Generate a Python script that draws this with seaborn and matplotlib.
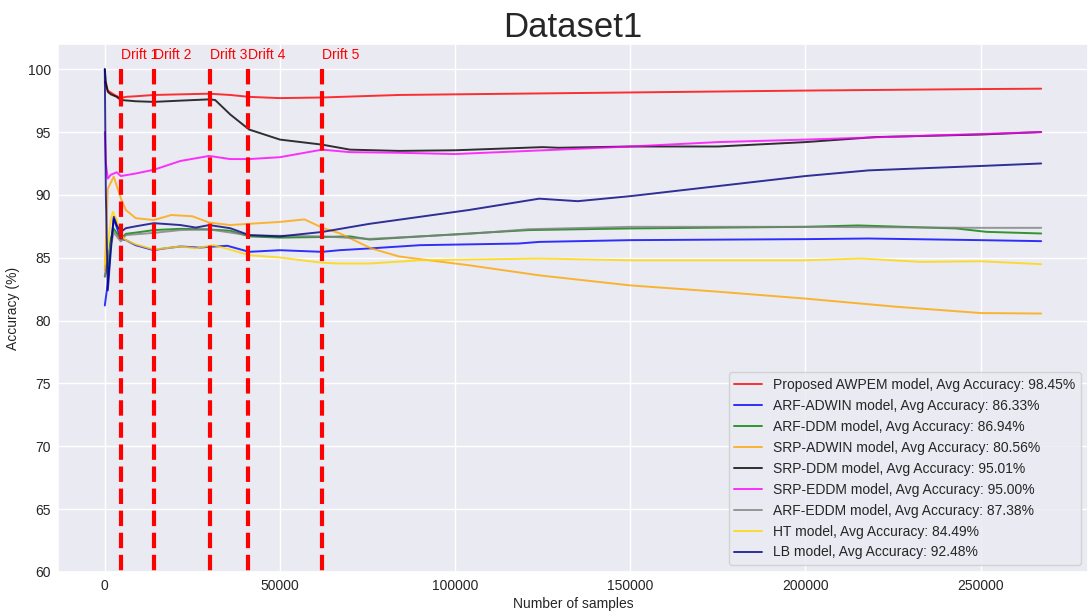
import numpy as np
import pandas as pd
import matplotlib
matplotlib.use("Agg")
import matplotlib.pyplot as plt
import seaborn as sns

# accuracy curves (samples, accuracy %)
awpem_x = [0, 850, 2500, 4500, 6000, 9000, 14000, 21600, 29800, 35800, 41200, 50000, 62000, 84000, 100000, 150000, 200000, 250000, 267300]
awpem_y = [99.0, 98.3, 98.0, 97.7, 97.8, 97.85, 97.95, 98.0, 98.05, 97.95, 97.8, 97.7, 97.75, 97.95, 98.0, 98.15, 98.3, 98.42, 98.45]

arf_adwin_x = [0, 850, 1700, 2560, 4550, 6000, 8800, 14000, 16000, 21600, 27000, 29800, 35000, 41200, 50000, 62000, 67000, 75600, 90000, 118000, 124000, 150000, 200000, 218000, 250000, 267300]
arf_adwin_y = [81.2, 83.0, 86.0, 88.1, 86.5, 86.4, 86.0, 85.6, 85.7, 85.9, 85.8, 85.87, 85.95, 85.47, 85.6, 85.47, 85.6, 85.74, 86.0, 86.13, 86.26, 86.4, 86.48, 86.53, 86.4, 86.32]

arf_ddm_x = [0, 850, 1700, 2560, 4550, 6000, 8800, 14000, 21600, 29800, 35800, 41200, 50000, 62000, 70000, 75600, 104000, 121000, 150000, 200000, 215000, 243000, 251700, 267300]
arf_ddm_y = [83.5, 84.5, 86.5, 87.3, 86.5, 86.9, 87.0, 87.2, 87.3, 87.25, 87.15, 86.7, 86.6, 86.65, 86.7, 86.45, 86.93, 87.2, 87.33, 87.46, 87.57, 87.33, 87.06, 86.93]

srp_adwin_x = [0, 850, 2560, 4550, 6000, 8800, 14000, 19000, 25000, 29800, 35800, 41200, 50000, 57000, 62000, 67000, 76000, 84000, 104000, 124000, 150000, 175000, 200000, 226000, 250000, 267300]
srp_adwin_y = [84.0, 90.5, 91.45, 89.75, 88.8, 88.15, 88.0, 88.4, 88.3, 87.8, 87.6, 87.7, 87.85, 88.05, 87.4, 86.95, 85.75, 85.1, 84.4, 83.6, 82.8, 82.3, 81.75, 81.1, 80.6, 80.56]

srp_ddm_x = [0, 300, 850, 1700, 3400, 4550, 8800, 14000, 21600, 29800, 31500, 35800, 41200, 50000, 62000, 70000, 84000, 100000, 125000, 129500, 150000, 175000, 200000, 220000, 250000, 267300]
srp_ddm_y = [100.0, 99.0, 98.2, 98.0, 97.8, 97.55, 97.45, 97.4, 97.5, 97.6, 97.55, 96.4, 95.2, 94.4, 94.0, 93.6, 93.5, 93.55, 93.8, 93.75, 93.85, 93.85, 94.2, 94.6, 94.8, 95.0]

srp_eddm_x = [0, 300, 850, 1700, 3400, 4550, 8800, 14000, 21600, 29800, 35800, 41200, 50000, 62000, 70000, 84000, 100000, 129500, 150000, 175000, 200000, 250000, 267300]
srp_eddm_y = [95.0, 92.5, 91.3, 91.6, 91.8, 91.5, 91.7, 92.0, 92.7, 93.1, 92.85, 92.85, 93.0, 93.6, 93.4, 93.35, 93.25, 93.6, 93.85, 94.2, 94.4, 94.85, 95.0]

arf_eddm_x = [0, 850, 2560, 4550, 6000, 14000, 21600, 29800, 41200, 62000, 75600, 104000, 121000, 150000, 200000, 250000, 267300]
arf_eddm_y = [83.5, 85.0, 87.0, 86.3, 86.8, 86.98, 87.2, 87.25, 86.78, 86.7, 86.5, 86.9, 87.27, 87.46, 87.46, 87.38, 87.38]

ht_x = [0, 850, 1700, 2300, 3400, 4550, 6000, 8800, 14000, 21600, 26000, 31000, 35800, 41200, 50000, 62000, 67000, 75600, 90000, 124000, 150000, 200000, 216000, 233000, 250000, 267300]
ht_y = [84.5, 86.0, 88.0, 88.65, 88.0, 86.8, 86.4, 86.07, 85.65, 85.9, 85.75, 86.0, 85.65, 85.2, 85.02, 84.6, 84.54, 84.54, 84.8, 84.94, 84.8, 84.8, 84.94, 84.67, 84.72, 84.49]

lb_x = [0, 300, 850, 1700, 2560, 3400, 4550, 6000, 8800, 14000, 21600, 26000, 29800, 35800, 41200, 50000, 62000, 75600, 104000, 124000, 135000, 150000, 175000, 200000, 218000, 250000, 267300]
lb_y = [100.0, 90.0, 82.4, 85.5, 88.25, 87.6, 87.05, 87.35, 87.5, 87.75, 87.6, 87.4, 87.6, 87.35, 86.8, 86.7, 87.05, 87.7, 88.8, 89.7, 89.5, 89.9, 90.7, 91.5, 91.95, 92.3, 92.5]

labels = ["Proposed AWPEM model, Avg Accuracy: 98.45%",
          "ARF-ADWIN model, Avg Accuracy: 86.33%",
          "ARF-DDM model, Avg Accuracy: 86.94%",
          "SRP-ADWIN model, Avg Accuracy: 80.56%",
          "SRP-DDM model, Avg Accuracy: 95.01%",
          "SRP-EDDM model, Avg Accuracy: 95.00%",
          "ARF-EDDM model, Avg Accuracy: 87.38%",
          "HT model, Avg Accuracy: 84.49%",
          "LB model, Avg Accuracy: 92.48%"]
colors = ["red", "blue", "green", "orange", "black", "magenta", "gray", "gold", "navy"]

drifts = [4500, 14000, 30000, 41000, 62000]

sns.set_theme(style="darkgrid")
plt.rcParams["font.family"] = ["Liberation Sans", "DejaVu Sans"]

fig, ax = plt.subplots(figsize=(10.88, 6.12), dpi=100)
fig.subplots_adjust(left=0.0533, right=1.0, bottom=0.0654, top=0.928)

series = [(awpem_x, awpem_y), (arf_adwin_x, arf_adwin_y), (arf_ddm_x, arf_ddm_y),
          (srp_adwin_x, srp_adwin_y), (srp_ddm_x, srp_ddm_y), (srp_eddm_x, srp_eddm_y),
          (arf_eddm_x, arf_eddm_y), (ht_x, ht_y), (lb_x, lb_y)]
for (xs, ys), lbl, c in zip(series, labels, colors):
    sns.lineplot(x=xs, y=ys, color=c, label=lbl, lw=1.4, alpha=0.8, ax=ax,
                 estimator=None, sort=False)

ax.vlines(drifts, 100, 60, colors="red", linestyles="--", lw=3)
for i, d in enumerate(drifts):
    ax.text(d, 101.1, f"Drift {i+1}", color="red", fontsize=10, va="center", ha="left")

ax.set_xlim(-13365, 280665)
ax.set_ylim(60, 102)
ax.set_yticks(np.arange(60, 101, 5))
ax.set_title("Dataset1", fontsize=25, pad=5)
ax.set_xlabel("Number of samples", fontsize=10, labelpad=3)
ax.set_ylabel("Accuracy (%)", fontsize=10, labelpad=6)
ax.tick_params(labelsize=10, length=0, pad=5)
ax.legend(loc="lower right", fontsize=10)

plt.savefig("out.png", dpi=100)
